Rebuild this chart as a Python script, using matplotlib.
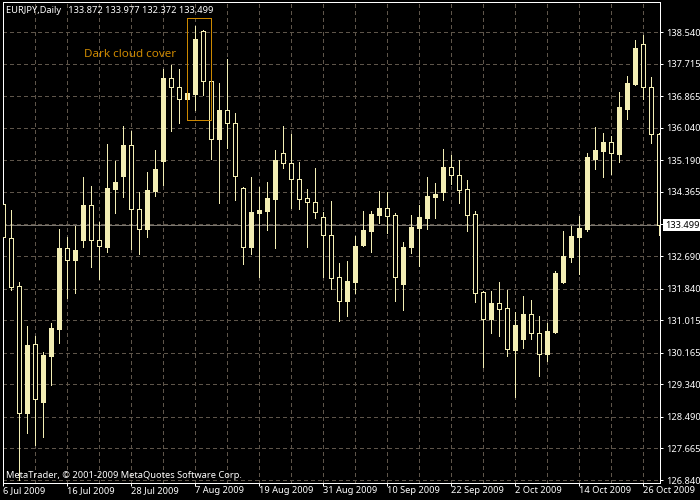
import matplotlib
matplotlib.use("Agg")
import matplotlib.pyplot as plt
from matplotlib.patches import Rectangle
from matplotlib.transforms import blended_transform_factory

# ---------------- data (EURJPY daily) ----------------
opens = [134.05, 133.15, 131.91, 128.60, 130.38, 128.89, 130.09, 130.78, 132.89, 132.59,
         133.11, 134.02, 133.11, 132.93, 134.43, 134.79, 135.59, 133.91, 133.39, 134.39,
         135.18, 137.33, 137.10, 136.78, 136.93, 138.57, 137.27, 135.74, 136.50, 136.16,
         134.46, 132.93, 133.82, 133.87, 134.18, 135.37, 135.11, 134.69, 134.20, 134.09,
         133.72, 133.24, 132.13, 131.52, 132.02, 132.98, 133.35, 133.77, 133.94, 133.76,
         131.96, 132.93, 133.43, 133.67, 134.24, 134.37, 135.02, 134.81, 134.44, 133.79,
         131.76, 131.05, 131.46, 131.33, 130.24, 130.52, 131.18, 130.67, 130.12, 130.71,
         132.02, 132.67, 133.19, 133.40, 135.23, 135.44, 135.66, 135.35, 136.54, 137.19,
         138.22, 137.10, 135.88]
highs = [134.07, 133.89, 132.02, 130.86, 130.60, 130.19, 130.95, 133.40, 133.19, 133.47,
         134.76, 134.53, 133.59, 135.62, 135.17, 136.09, 135.96, 134.37, 134.88, 135.46,
         137.57, 137.68, 137.57, 136.96, 138.70, 138.59, 137.28, 137.20, 137.83, 136.42,
         134.50, 134.76, 134.48, 134.63, 135.46, 136.09, 135.87, 135.14, 134.43, 134.98,
         133.85, 134.13, 132.52, 132.56, 133.21, 133.87, 133.87, 134.39, 134.36, 133.81,
         133.05, 133.76, 134.02, 134.75, 134.60, 135.49, 135.33, 135.20, 134.68, 133.86,
         131.78, 131.78, 132.00, 131.80, 131.23, 131.65, 131.54, 131.11, 130.95, 132.31,
         133.33, 133.47, 133.74, 135.37, 136.07, 135.89, 135.82, 136.96, 137.40, 138.33,
         138.46, 137.37, 135.90]
lows = [131.72, 131.80, 126.84, 128.08, 127.75, 127.97, 129.32, 130.43, 131.59, 131.72,
        132.92, 132.39, 132.08, 132.80, 133.82, 134.24, 132.87, 132.74, 133.19, 134.27,
        134.55, 135.96, 136.17, 136.76, 136.49, 136.90, 135.23, 134.07, 135.52, 134.15,
        132.48, 132.74, 132.15, 133.37, 132.89, 134.98, 133.94, 133.91, 132.92, 133.68,
        132.13, 131.83, 131.00, 131.13, 131.73, 132.96, 132.80, 133.54, 133.30, 131.52,
        131.28, 132.78, 132.44, 133.40, 133.69, 134.14, 134.57, 134.08, 133.33, 131.50,
        129.80, 130.69, 130.61, 130.09, 129.02, 130.28, 130.52, 129.56, 129.95, 130.67,
        131.99, 132.53, 132.22, 133.34, 134.96, 134.75, 134.83, 135.15, 136.26, 137.15,
        136.78, 135.63, 133.24]
closes = [133.19, 131.89, 128.60, 130.37, 128.95, 130.11, 130.82, 132.91, 132.59, 132.85,
          134.02, 133.11, 132.95, 134.46, 134.62, 135.59, 133.91, 133.39, 134.41, 134.96,
          137.34, 137.10, 136.78, 136.94, 138.35, 137.27, 135.74, 136.50, 136.16, 134.79,
          132.93, 133.84, 133.89, 134.20, 135.20, 135.11, 134.69, 134.19, 134.09, 133.83,
          133.23, 132.12, 131.52, 132.04, 132.95, 133.37, 133.79, 133.94, 133.74, 132.15,
          132.93, 133.45, 133.71, 134.26, 134.31, 135.02, 134.81, 134.42, 133.77, 131.72,
          131.05, 131.46, 131.30, 130.25, 130.89, 131.18, 130.67, 130.12, 130.73, 132.24,
          132.69, 133.21, 133.41, 135.28, 135.46, 135.67, 135.37, 136.58, 137.20, 138.12,
          137.10, 135.87, 133.50]

symbol = "EURJPY,Daily"
header_ohlc = ["133.872", "133.977", "132.372", "133.499"]
bid_price = 133.499
price_ticks = [138.540, 137.715, 136.865, 136.040, 135.190, 134.365, 133.515, 132.690,
               131.840, 131.015, 130.165, 129.340, 128.490, 127.665, 126.840]
price_labels = ["138.540", "137.715", "136.865", "136.040", "135.190", "134.365", "133.515",
                "132.690", "131.840", "131.015", "130.165", "129.340", "128.490", "127.665",
                "126.840"]
date_labels = ["6 Jul 2009", "16 Jul 2009", "28 Jul 2009", "7 Aug 2009", "19 Aug 2009",
               "31 Aug 2009", "10 Sep 2009", "22 Sep 2009", "2 Oct 2009", "14 Oct 2009",
               "26 Oct 2009"]
date_step = 8
pattern_bars = [24, 25]
pattern_name = "Dark cloud cover"

# ---------------- style ----------------
W, H = 700, 500
BG = "black"
CANDLE = "#f3eeb4"
GRID = "#5e554a"
ORANGE = "#cc8800"
FS = 6.7
PX = 72 / 100.0  # one pixel in points

plt.rcParams["font.family"] = ["Noto Sans", "DejaVu Sans"]

fig = plt.figure(figsize=(W / 100, H / 100), dpi=100, facecolor=BG)
left_px, right_px, top_px, bot_px = 2.7, 660.0, 2.0, 482.7
ax = fig.add_axes([left_px / W, 1 - bot_px / H, (right_px - left_px) / W, (bot_px - top_px) / H])
ax.set_facecolor(BG)

# scale: 138.540 at y=32px, 126.840 at y=480px ; bar i at x = 3.3 + 8*i px
ppp = (480 - 32) / (price_ticks[0] - price_ticks[-1])
ax.set_ylim(price_ticks[-1] - (bot_px - 480) / ppp, price_ticks[0] + (32 - top_px) / ppp)
ax.set_xlim((left_px - 3.3) / 8, (right_px - 3.3) / 8)

n = len(opens)
xs = list(range(n))

# grid
for p in price_ticks:
    ax.axhline(p, color=GRID, lw=PX, ls=(0, (3, 3)), zorder=1, antialiased=False)
for i in range(4, n + 4, 4):
    ax.axvline(i, color=GRID, lw=PX, ls=(0, (3, 3)), zorder=1, antialiased=False)
# bid line
ax.axhline(bid_price, color="#7a7670", lw=PX, zorder=1.5, antialiased=False)

# candles
bw = 0.5
ax.vlines(xs, lows, highs, color=CANDLE, lw=PX, zorder=2, antialiased=False)
for i in xs:
    o, c = opens[i], closes[i]
    lo, hi = min(o, c), max(o, c)
    bull = c >= o
    ax.add_patch(Rectangle((i - bw / 2, lo), bw, max(hi - lo, 1e-6),
                           facecolor=CANDLE if bull else BG, edgecolor=CANDLE,
                           lw=PX, zorder=3, antialiased=False))

# pattern box
pb_lo = min(lows[j] for j in pattern_bars) - 0.26
pb_hi = max(highs[j] for j in pattern_bars) + 0.21
ax.add_patch(Rectangle((min(pattern_bars) - 1, pb_lo), len(pattern_bars) + 1, pb_hi - pb_lo,
                       facecolor="none", edgecolor=ORANGE, lw=PX, zorder=4, antialiased=False))
fig.text(84 / W, 1 - 54.5 / H, pattern_name, color=ORANGE, fontsize=8.4, va="center", ha="left")

# spines
for s in ax.spines.values():
    s.set_color("white")
    s.set_linewidth(PX)

# axes ticks
ax.yaxis.tick_right()
ax.set_yticks(price_ticks)
ax.set_yticklabels(price_labels)
ax.set_xticks(list(range(0, n, date_step))[:len(date_labels)])
ax.set_xticklabels(date_labels, ha="left")
ax.tick_params(axis="y", colors="white", length=2.3, width=PX, pad=2.0, labelsize=FS)
ax.tick_params(axis="x", colors="white", length=2.4, width=PX, pad=0.3, labelsize=FS)

# bid label
tr = blended_transform_factory(ax.transAxes, ax.transData)
ax.text(1 + 4.8 / (right_px - left_px), bid_price, "133.499", transform=tr, color="black",
        fontsize=FS, va="center", ha="left", clip_on=False, zorder=10,
        bbox=dict(facecolor="white", edgecolor="none", pad=1.1))

# header & footer
fig.text(6.5 / W, 1 - 10.7 / H, symbol + "   " + " ".join(header_ohlc), color="white",
         fontsize=FS, va="center", ha="left")
fig.text(6 / W, 1 - 475 / H, "MetaTrader, \u00a9 2001-2009 MetaQuotes Software Corp.",
         color="white", fontsize=FS, va="center", ha="left")

fig.savefig("out.png", dpi=100, facecolor=BG)
